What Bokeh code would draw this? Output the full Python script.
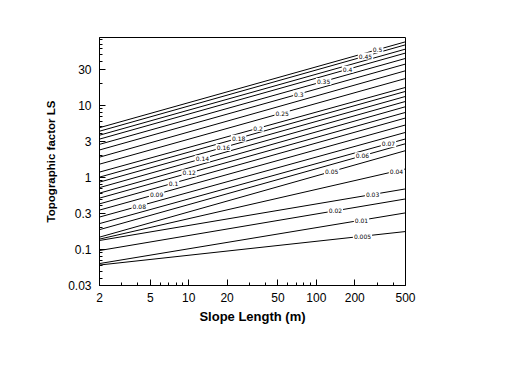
import json
import numpy as np
from bokeh.plotting import figure
from bokeh.models import FixedTicker, CustomJSTickFormatter, ColumnDataSource, Range1d
from bokeh.embed import file_html
from bokeh.resources import INLINE
from bokeh.core.properties import value

# LS of each curve read at slope length 2 m and at 500 m (top curve first)
ls_at_2 = [4.87, 4.35, 3.83, 3.38, 2.86, 2.39, 1.90, 1.52, 1.18, 1.005, 0.857, 0.719, 0.603,
           0.514, 0.428, 0.351, 0.281, 0.228, 0.188, 0.148, 0.139, 0.133, 0.0965, 0.0637, 0.0608]
ls_at_500 = [75.5, 68.6, 59.8, 52.7, 44.4, 37.1, 29.96, 23.4, 17.6, 15.5, 13.2, 11.25, 9.51,
             7.93, 6.63, 5.31, 4.19, 3.40, 2.92, 2.34, 1.305, 0.690, 0.501, 0.321, 0.177]
length_ends = [2, 500]

# contour-style labels (slope gradient), the curve each one sits on, and its slope length
label_text = ["0.5", "0.45", "0.4", "0.35", "0.3", "0.25", "0.2", "0.18", "0.16", "0.14",
              "0.12", "0.1", "0.09", "0.08", "0.07", "0.06", "0.05", "0.04", "0.03",
              "0.02", "0.01", "0.005"]
label_curve = [0, 1, 3, 4, 5, 7, 8, 9, 10, 11, 13, 14, 15, 16, 17, 18, 19, 20, 21, 22, 23, 24]
label_length = [302, 243, 176, 114, 73, 54, 35, 24.6, 18.7, 12.8, 10.1, 7.6, 5.6, 4.1,
                368, 230, 132, 425, 276, 141, 226, 230]

x_ticks = [2, 5, 10, 20, 50, 100, 200, 500]
x_minor = [3, 4, 6, 7, 8, 9, 30, 40, 60, 70, 80, 90, 300, 400]
y_tick_labels = ["0.03", "0.1", "0.3", "1", "3", "10", "30"]
y_ticks = [10 ** (k / 2) for k in range(-3, 4)]
y_minor = [0.04, 0.05, 0.06, 0.07, 0.08, 0.09, 0.2, 0.4, 0.5, 0.6, 0.7, 0.8, 0.9,
           2, 4, 5, 6, 7, 8, 9, 20, 40, 50, 60, 70, 80]

p = figure(width=500, height=365, x_axis_type="log", y_axis_type="log",
           x_range=Range1d(2, 500), y_range=Range1d(10 ** -1.5, 86.6),
           output_backend="svg", toolbar_location=None,
           min_border_left=99, min_border_right=95, min_border_top=37, min_border_bottom=80)
p.grid.visible = False
p.outline_line_color = "black"
p.outline_line_width = 1
p.background_fill_color = "white"
p.border_fill_color = "white"

xs = [length_ends for _ in ls_at_2]
ys = [[a, b] for a, b in zip(ls_at_2, ls_at_500)]
p.multi_line(xs=xs, ys=ys, line_color="black", line_width=1)

# label positions on their curves (log-log interpolation)
lx, ly = [], []
for c, L in zip(label_curve, label_length):
    f = (np.log10(L) - np.log10(2)) / (np.log10(500) - np.log10(2))
    v = 10 ** (np.log10(ls_at_2[c]) + f * (np.log10(ls_at_500[c]) - np.log10(ls_at_2[c])))
    lx.append(L)
    ly.append(v)
src = ColumnDataSource(dict(x=lx, y=ly, t=label_text))
p.text(x="x", y="y", text="t", source=src, text_font=value("DejaVu Sans"),
       text_font_size="6px", text_align="center", text_baseline="middle",
       text_color="black", background_fill_color="white", padding=1)

for ax in (p.xaxis[0], p.yaxis[0]):
    ax.axis_line_color = "black"
    ax.major_tick_line_color = "black"
    ax.minor_tick_line_color = "black"
    ax.major_tick_in = 6
    ax.major_tick_out = 0
    ax.minor_tick_in = 3
    ax.minor_tick_out = 0
    ax.major_label_text_font = "Liberation Sans"
    ax.major_label_text_font_size = "12px"
    ax.major_label_text_color = "black"
    ax.axis_label_text_font = "Liberation Sans"
    ax.axis_label_text_font_style = "bold"
    ax.axis_label_text_color = "black"

p.xaxis.ticker = FixedTicker(ticks=x_ticks, minor_ticks=x_minor)
p.xaxis.formatter = CustomJSTickFormatter(code="return String(Math.round(tick));")
p.xaxis.major_label_standoff = 7
p.xaxis.axis_label = "Slope Length (m)"
p.xaxis.axis_label_text_font_size = "13px"
p.xaxis.axis_label_standoff = 4

p.yaxis.ticker = FixedTicker(ticks=y_ticks, minor_ticks=y_minor)
p.yaxis.formatter = CustomJSTickFormatter(
    code="const labels = " + json.dumps(y_tick_labels) +
         "; const k = Math.round(2*Math.log10(tick)); return labels[k + 3];")
p.yaxis.major_label_standoff = 8
p.yaxis.axis_label = "Topographic factor LS"
p.yaxis.axis_label_text_font_size = "11.5px"
p.yaxis.axis_label_standoff = 8

open("out.html", "w").write(file_html(p, INLINE))
